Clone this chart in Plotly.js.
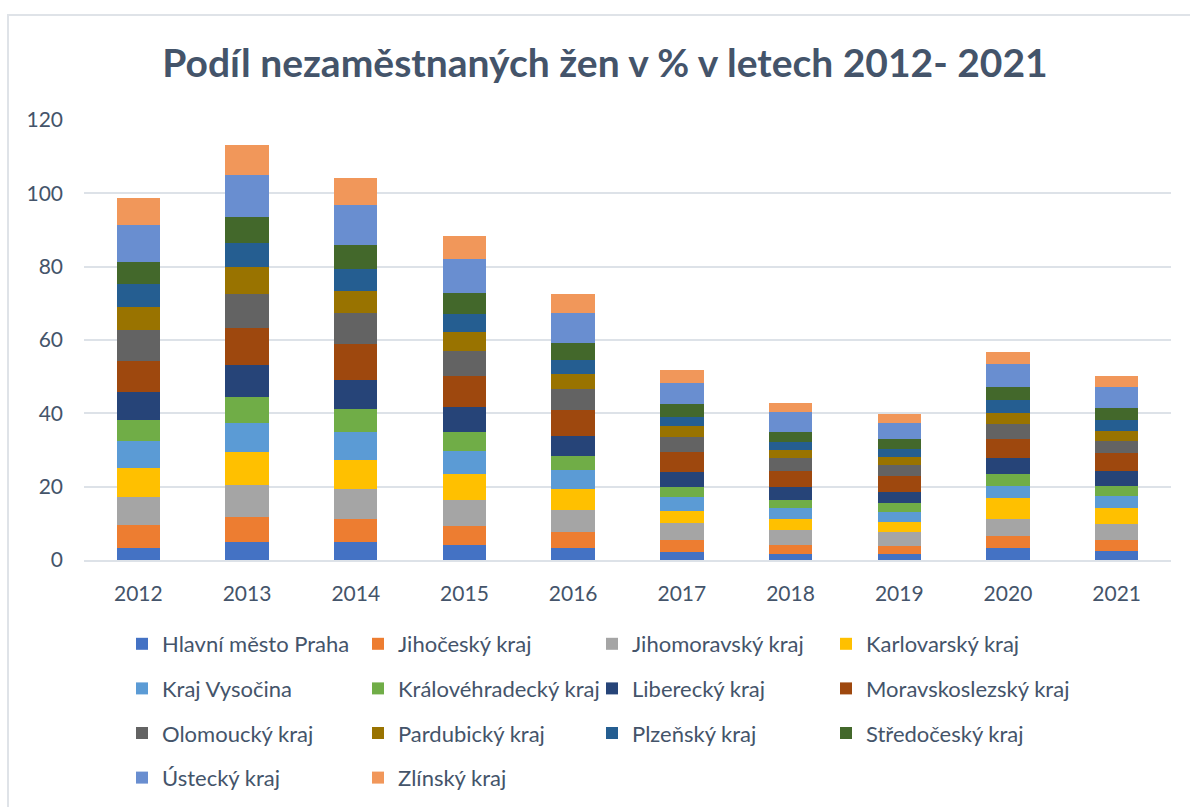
<!DOCTYPE html>
<html>
<head>
<meta charset="utf-8">
<script src="https://cdn.plot.ly/plotly-3.0.1.min.js"></script>
<style>
  html, body { margin: 0; padding: 0; background: #ffffff; }
  #wrap { position: relative; width: 1190px; height: 807px; overflow: hidden; }
  #frame { position: absolute; left: 7px; top: 14px; width: 1300px; height: 900px; border: 2px solid #dfe3e8; box-sizing: border-box; pointer-events: none; }
  #chart { position: absolute; left: 0; top: 0; width: 1190px; height: 807px; }
</style>
</head>
<body>
<div id="wrap">
  <div id="chart"></div>
  <div id="frame"></div>
</div>
<script>
const years = ["2012","2013","2014","2015","2016","2017","2018","2019","2020","2021"];

const regions = [
  "Hlavní město Praha", "Jihočeský kraj", "Jihomoravský kraj", "Karlovarský kraj",
  "Kraj Vysočina", "Královéhradecký kraj", "Liberecký kraj", "Moravskoslezský kraj",
  "Olomoucký kraj", "Pardubický kraj", "Plzeňský kraj", "Středočeský kraj",
  "Ústecký kraj", "Zlínský kraj"
];

const praha        = [3.4, 4.9, 4.9, 4.1, 3.4, 2.2, 1.7, 1.7, 3.3, 2.5];
const jihocesky    = [6.1, 6.9, 6.3, 5.2, 4.3, 3.3, 2.4, 2.2, 3.2, 3.0];
const jihomoravsky = [7.7, 8.7, 8.2, 7.2, 6.0, 4.5, 4.1, 3.8, 4.7, 4.2];
const karlovarsky  = [8.0, 9.0, 8.0, 7.0, 5.7, 3.4, 2.9, 2.7, 5.6, 4.6];
const vysocina     = [7.3, 7.9, 7.5, 6.2, 5.2, 3.8, 3.0, 2.8, 3.4, 3.2];
const kralovehradecky = [5.7, 7.1, 6.3, 5.1, 3.7, 2.8, 2.4, 2.3, 3.2, 2.7];
const liberecky    = [7.7, 8.7, 8.0, 6.8, 5.6, 4.0, 3.5, 3.1, 4.3, 4.0];
const moravskoslezsky = [8.4, 10.1, 9.6, 8.5, 7.1, 5.5, 4.4, 4.3, 5.2, 4.9];
const olomoucky    = [8.4, 9.3, 8.6, 6.8, 5.6, 4.0, 3.3, 2.9, 4.2, 3.4];
const pardubicky   = [6.4, 7.3, 6.0, 5.2, 4.1, 3.0, 2.3, 2.3, 2.9, 2.7];
const plzensky     = [6.1, 6.5, 6.0, 5.0, 3.8, 2.5, 2.2, 2.2, 3.6, 3.0];
const stredocesky  = [6.0, 7.1, 6.5, 5.6, 4.7, 3.5, 2.8, 2.6, 3.5, 3.3];
const ustecky      = [10.2, 11.5, 10.9, 9.3, 8.3, 5.8, 5.3, 4.4, 6.3, 5.6];
const zlinsky      = [7.2, 8.2, 7.4, 6.4, 5.0, 3.5, 2.6, 2.6, 3.2, 3.1];

const series = [praha, jihocesky, jihomoravsky, karlovarsky, vysocina, kralovehradecky,
  liberecky, moravskoslezsky, olomoucky, pardubicky, plzensky, stredocesky, ustecky, zlinsky];

const colors = ["#4472C4", "#ED7D31", "#A5A5A5", "#FFC000", "#5B9BD5", "#70AD47",
  "#264478", "#9E480E", "#636363", "#997300", "#255E91", "#43682B", "#698ED0", "#F1975A"];

// one legend per column, four columns
const legendIds = ["legend", "legend2", "legend3", "legend4"];

const traces = regions.map((name, i) => ({
  type: "bar",
  name: name,
  x: years,
  y: series[i],
  marker: { color: colors[i], line: { width: 0 } },
  legend: legendIds[i % 4],
  legendgroup: "g" + i,
  hovertemplate: "%{x}<br>" + name + ": %{y}<extra></extra>"
}));

const FONT = "Lato, Carlito, Calibri, sans-serif";
const TXT = "#44546A";

// plot domain in pixels: x 84..1171, y 120..560
const W = 1190, H = 807;
const L = 84, R = 1171, T = 120, B = 560;
const px = v => (v - L) / (R - L);
const py = v => (B - v) / (B - T);

function leg(xPix) {
  return {
    orientation: "v",
    x: px(xPix), xanchor: "left",
    y: py(623), yanchor: "top",
    traceorder: "grouped",
    tracegroupgap: 13,
    font: { family: FONT, size: 22, color: TXT },
    bgcolor: "rgba(0,0,0,0)",
    itemclick: false, itemdoubleclick: false
  };
}

const layout = {
  width: W, height: H,
  margin: { l: L, r: W - R, t: T, b: H - B, pad: 0, autoexpand: false },
  paper_bgcolor: "#ffffff",
  plot_bgcolor: "#ffffff",
  barmode: "stack",
  bargap: 0.6,
  showlegend: true,
  title: {
    text: "<b>Podíl nezaměstnaných žen v % v letech 2012- 2021</b>",
    font: { family: FONT, size: 39, color: TXT },
    x: px(605), xref: "paper", xanchor: "center",
    y: 1 - 63 / H, yref: "container", yanchor: "middle"
  },
  xaxis: {
    type: "category",
    showgrid: false,
    showline: true, linecolor: "#dde2e8", linewidth: 2,
    ticks: "", ticklabelstandoff: 14,
    tickfont: { family: FONT, size: 21, color: TXT },
    fixedrange: true
  },
  yaxis: {
    range: [0, 120], dtick: 20, tick0: 0,
    showgrid: true, gridcolor: "#dde2e8", gridwidth: 2,
    zeroline: false, showline: false,
    ticks: "", ticklabelstandoff: 20,
    tickfont: { family: FONT, size: 21, color: TXT },
    fixedrange: true
  },
  legend: leg(122),
  legend2: leg(358),
  legend3: leg(592),
  legend4: leg(826)
};

Plotly.newPlot("chart", traces, layout, { displayModeBar: false });
</script>
</body>
</html>
